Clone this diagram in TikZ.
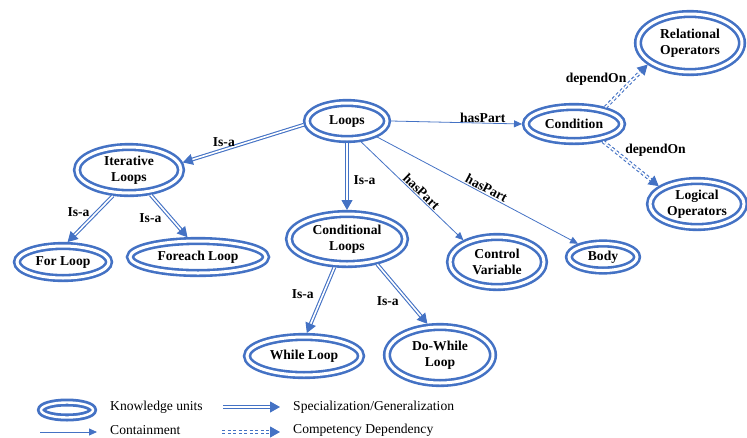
\documentclass[tikz,border=0pt]{standalone}
\usepackage{fontspec}
\setmainfont{Liberation Serif}
\usetikzlibrary{arrows.meta,shapes.geometric}
\definecolor{kb}{RGB}{68,114,196}
\begin{document}
\begin{tikzpicture}[x=1pt,y=-1pt,
  ku/.style={ellipse, draw=kb, double=white, line width=2.6pt, double distance=3pt,
    inner sep=0pt, outer sep=4pt, align=center,
    font=\bfseries\fontsize{13.6}{16.5}\selectfont},
  isa/.style={draw=kb, double=white, line width=1.1pt, double distance=1.6pt,
    -{Triangle[length=10pt,width=11pt]}},
  dep/.style={isa, dash pattern=on 3pt off 2.5pt},
  part/.style={draw=kb, line width=0.8pt, -{Triangle[length=8pt,width=7pt]}},
  lbl/.style={font=\bfseries\fontsize{13.6}{15}\selectfont, inner sep=1pt},
  leg/.style={font=\fontsize{13.6}{15}\selectfont, anchor=west, inner sep=0pt}
]
\useasboundingbox (0,0) rectangle (747,437);

% knowledge units
\node[ku, minimum width=80pt, minimum height=36pt] (loops) at (347,121) {Loops};
\node[ku, minimum width=96pt, minimum height=34pt] (cond) at (574,124) {Condition};
\node[ku, minimum width=104pt, minimum height=58pt] (rel) at (690,43) {Relational\\Operators};
\node[ku, minimum width=94pt, minimum height=46pt] (logi) at (697,204) {Logical\\Operators};
\node[ku, minimum width=104pt, minimum height=46pt] (iter) at (129,170) {Iterative\\Loops};
\node[ku, minimum width=92pt, minimum height=32pt] (for) at (63,262) {For Loop};
\node[ku, minimum width=136pt, minimum height=32pt] (foreach) at (198,257) {Foreach Loop};
\node[ku, minimum width=116pt, minimum height=50pt] (condl) at (347,239) {Conditional\\Loops};
\node[ku, minimum width=94pt, minimum height=50pt] (cv) at (497,262) {Control\\Variable};
\node[ku, minimum width=68pt, minimum height=27pt] (body) at (603,257) {Body};
\node[ku, minimum width=114pt, minimum height=38pt] (while) at (304,356) {While Loop};
\node[ku, minimum width=106pt, minimum height=56pt] (dowhile) at (440,355) {Do-While\\Loop};

% connectors
\draw[isa] (loops.185) -- (iter.8) node[lbl, pos=0.66, above=1pt] {Is-a};
\draw[part] (loops.east) -- (cond.west) node[lbl, pos=0.7, above=-1pt] {hasPart};
\draw[isa] (loops.south) -- (condl.north) node[lbl, pos=0.55, right=5pt] {Is-a};
\draw[part] (loops.-56) -- (cv.147) node[lbl, pos=0.55, sloped, above=0pt] {hasPart};
\draw[part] (loops) -- (body) node[lbl, pos=0.53, sloped, above=0pt] {hasPart};
\draw[isa] (iter.-122) -- (for.77) node[lbl, pos=0.35, left=6pt] {Is-a};
\draw[isa] (iter.-49) -- (foreach.118) node[lbl, pos=0.55, left=8pt] {Is-a};
\draw[isa] (condl.-114) -- (while.83) node[lbl, pos=0.4, left=8pt] {Is-a};
\draw[isa] (condl.-40) -- (dowhile.112) node[lbl, pos=0.62, left=8pt] {Is-a};
\draw[dep] (cond.28) -- (rel.207) node[lbl, pos=0.65, left=5pt] {dependOn};
\draw[dep] (cond.-31) -- (logi.155) node[lbl, pos=0.3, anchor=west, xshift=4pt, yshift=5pt] {dependOn};

% legend
\node[ku, minimum width=52pt, minimum height=15pt, line width=2.8pt, double distance=2.4pt] (legku) at (67,410) {};
\node[leg] (legkut) at (110,407) {Knowledge units};
\coordinate (sa) at (223,407);
\coordinate (sb) at (280,407);
\draw[isa] (sa) -- (sb);
\node[leg] (legspec) at (293,407) {Specialization/Generalization};
\coordinate (ca) at (40,432);
\coordinate (cb) at (97,432);
\draw[part] (ca) -- (cb);
\node[leg] (legcont) at (110,430) {Containment};
\coordinate (da) at (222,432);
\coordinate (db) at (280,432);
\draw[dep] (da) -- (db);
\node[leg] (legcomp) at (293,430) {Competency Dependency};
\end{tikzpicture}
\end{document}
